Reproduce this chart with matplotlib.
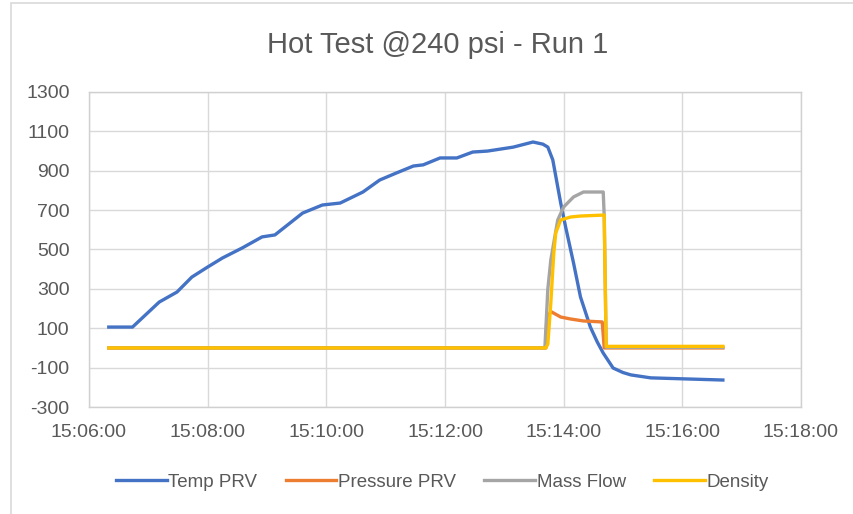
import matplotlib
matplotlib.use("Agg")
import matplotlib.pyplot as plt
import matplotlib.dates as mdates
from matplotlib.patches import Rectangle
import pandas as pd

# Temp PRV
temp_times = ["15:06:20", "15:06:44", "15:07:11", "15:07:29", "15:07:44", "15:08:00",
              "15:08:15", "15:08:35", "15:08:55", "15:09:08", "15:09:36", "15:09:56",
              "15:10:14", "15:10:37", "15:10:54", "15:11:11", "15:11:28", "15:11:38",
              "15:11:55", "15:12:12", "15:12:28", "15:12:43", "15:13:09", "15:13:29",
              "15:13:39", "15:13:44", "15:13:49", "15:13:57", "15:14:02", "15:14:10",
              "15:14:17", "15:14:27", "15:14:34", "15:14:40", "15:14:50", "15:15:00",
              "15:15:08", "15:15:28", "15:16:01", "15:16:41"]
temp_vals = [106, 106, 233, 284, 360, 411,
             457, 508, 564, 574, 685, 726,
             736, 792, 853, 889, 924, 930,
             965, 965, 995, 1000, 1020, 1046,
             1035, 1020, 955, 736, 614, 431,
             259, 106, 30, -26, -102, -125,
             -137, -152, -157, -163]

# Pressure PRV
pres_times = ["15:06:20", "15:13:42", "15:13:43", "15:13:47", "15:13:57", "15:14:07",
              "15:14:20", "15:14:39", "15:14:41", "15:16:41"]
pres_vals = [0, 0, 150, 185, 157, 147, 137, 132, 0, 0]

# Mass Flow
flow_times = ["15:06:20", "15:13:41", "15:13:44", "15:13:47", "15:13:54", "15:14:00",
              "15:14:10", "15:14:20", "15:14:40", "15:14:41", "15:14:43", "15:16:41"]
flow_vals = [0, 0, 300, 447, 650, 716, 767, 792, 792, 670, 3, 3]

# Density
dens_times = ["15:06:20", "15:13:42", "15:13:44", "15:13:47", "15:13:50", "15:13:52",
              "15:13:57", "15:14:07", "15:14:17", "15:14:41", "15:14:43", "15:16:41"]
dens_vals = [0, 0, 20, 228, 482, 584, 650, 665, 670, 675, 8, 8]

y_ticks = list(range(-300, 1301, 200))


def to_dt(times):
    return pd.to_datetime(["2020-01-01 " + t for t in times])


plt.rcParams['font.family'] = ['Liberation Sans', 'DejaVu Sans']
plt.rcParams['axes.unicode_minus'] = False

fig = plt.figure(figsize=(8.54, 5.14), dpi=100)
fig.patches.append(Rectangle((11 / 854, -0.05), 1.1, 1 - 3 / 514 + 0.05,
                             transform=fig.transFigure, fill=False,
                             edgecolor='#d9d9d9', lw=1.2))
ax = fig.add_axes([89 / 854, 1 - 407 / 514, (801 - 89) / 854, (407 - 92) / 514])

ax.plot(to_dt(temp_times), temp_vals, color='#4472C4', lw=2.4, label='Temp PRV')
ax.plot(to_dt(pres_times), pres_vals, color='#ED7D31', lw=2.4, label='Pressure PRV')
ax.plot(to_dt(flow_times), flow_vals, color='#A5A5A5', lw=2.4, label='Mass Flow')
ax.plot(to_dt(dens_times), dens_vals, color='#FFC000', lw=2.4, label='Density')

ax.set_xlim(pd.Timestamp("2020-01-01 15:06:00"), pd.Timestamp("2020-01-01 15:18:00"))
ax.set_ylim(-300, 1300)
ax.set_yticks(y_ticks)
ax.xaxis.set_major_locator(mdates.MinuteLocator(byminute=range(0, 60, 2)))
ax.xaxis.set_major_formatter(mdates.DateFormatter('%H:%M:%S'))

ax.grid(True, color='#d9d9d9', lw=1)
ax.set_axisbelow(True)
for s in ax.spines.values():
    s.set_color('#d0d0d0')
    s.set_linewidth(1)
ax.tick_params(length=0, labelsize=14, colors='#595959')
ax.tick_params(axis='x', pad=12)
ax.tick_params(axis='y', pad=14)

fig.suptitle('Hot Test @240 psi - Run 1', x=0.512, y=0.94, fontsize=21, color='#595959')

fig.legend(loc='center', bbox_to_anchor=(0.518, 1 - 482 / 514), ncol=4, frameon=False,
           fontsize=13.5, labelcolor='#595959', handlelength=2.7, handletextpad=0.1,
           columnspacing=1.5)

fig.savefig('out.png', dpi=100, facecolor='white')
